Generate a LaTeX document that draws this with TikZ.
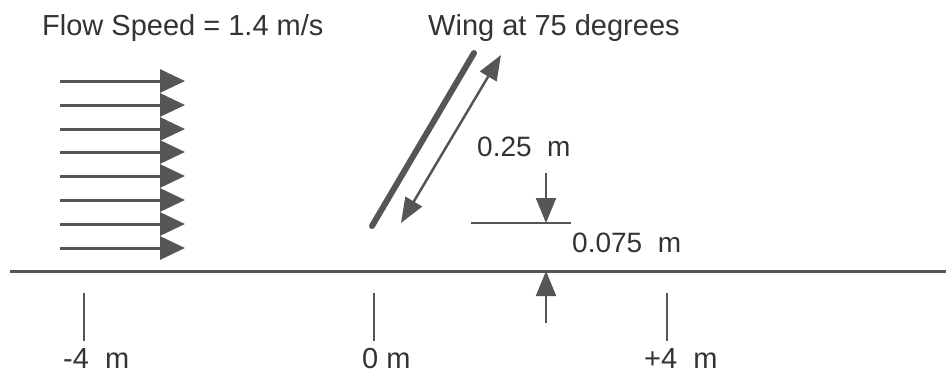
\documentclass[tikz,border=0pt]{standalone}
\usepackage{fontspec}
\setmainfont{Liberation Sans}
\usetikzlibrary{arrows.meta}
\definecolor{ink}{HTML}{555555}
\definecolor{txt}{HTML}{333333}
\begin{document}
\begin{tikzpicture}[x=1pt,y=-1pt,
  flowarrow/.style={draw=ink,line width=3pt,-{Triangle[length=25pt,width=23pt]}},
  dimarrow/.style={draw=ink,line width=2pt,-{Triangle[length=25pt,width=20pt]}},
  thinline/.style={draw=ink,line width=2pt},
  lbl/.style={inner sep=0pt,anchor=base west,text=txt,font=\fontsize{29}{31}\selectfont},
  dimlbl/.style={lbl,font=\fontsize{28}{30}\selectfont}
]
\useasboundingbox (0,0) rectangle (946,376);
% titles
\node[lbl] (flowtxt) at (42,35) {Flow Speed = 1.4 m/s};
\node[lbl] (wingtxt) at (428,35) {Wing at 75 degrees};
% flow arrows
\foreach \y [count=\i] in {81,105,129,152,176,200,224,248} {
  \coordinate (fs\i) at (60,\y);
  \coordinate (fe\i) at (185,\y);
  \draw[flowarrow] (fs\i) -- (fe\i);
}
% wing
\coordinate (wb) at (372,226);
\coordinate (wt) at (474,53);
\draw[ink,line width=6pt,line cap=round] (wb) -- (wt);
% chord dimension
\coordinate (da1) at (401,223);
\coordinate (da2) at (501,55);
\draw[ink,line width=2.5pt,{Triangle[length=25pt,width=19pt]}-{Triangle[length=25pt,width=19pt]}] (da1) -- (da2);
\node[dimlbl] (chordtxt) at (477,156) {0.25\ \ m};
% trailing edge level line
\coordinate (hl1) at (471,223);
\coordinate (hl2) at (571,223);
\draw[thinline] (hl1) -- (hl2);
% gap arrows
\coordinate (dt) at (546,173);
\coordinate (dtip) at (546,223);
\draw[dimarrow] (dt) -- (dtip);
\coordinate (ub) at (546,323);
\coordinate (utip) at (546,271);
\draw[dimarrow] (ub) -- (utip);
\node[dimlbl] (gaptxt) at (572,252) {0.075\ \ m};
% ground
\coordinate (g1) at (10,271);
\coordinate (g2) at (946,271);
\draw[ink,line width=3pt] (g1) -- (g2);
% ticks
\foreach \x/\n in {84/a,374/b,667/c} {
  \coordinate (t\n1) at (\x,293);
  \coordinate (t\n2) at (\x,341);
  \draw[thinline] (t\n1) -- (t\n2);
}
\node[lbl] (lm4) at (63,368) {-4\ \ m};
\node[lbl] (l0) at (362,368) {0 m};
\node[lbl] (lp4) at (644,368) {+4\ \ m};
\end{tikzpicture}
\end{document}
